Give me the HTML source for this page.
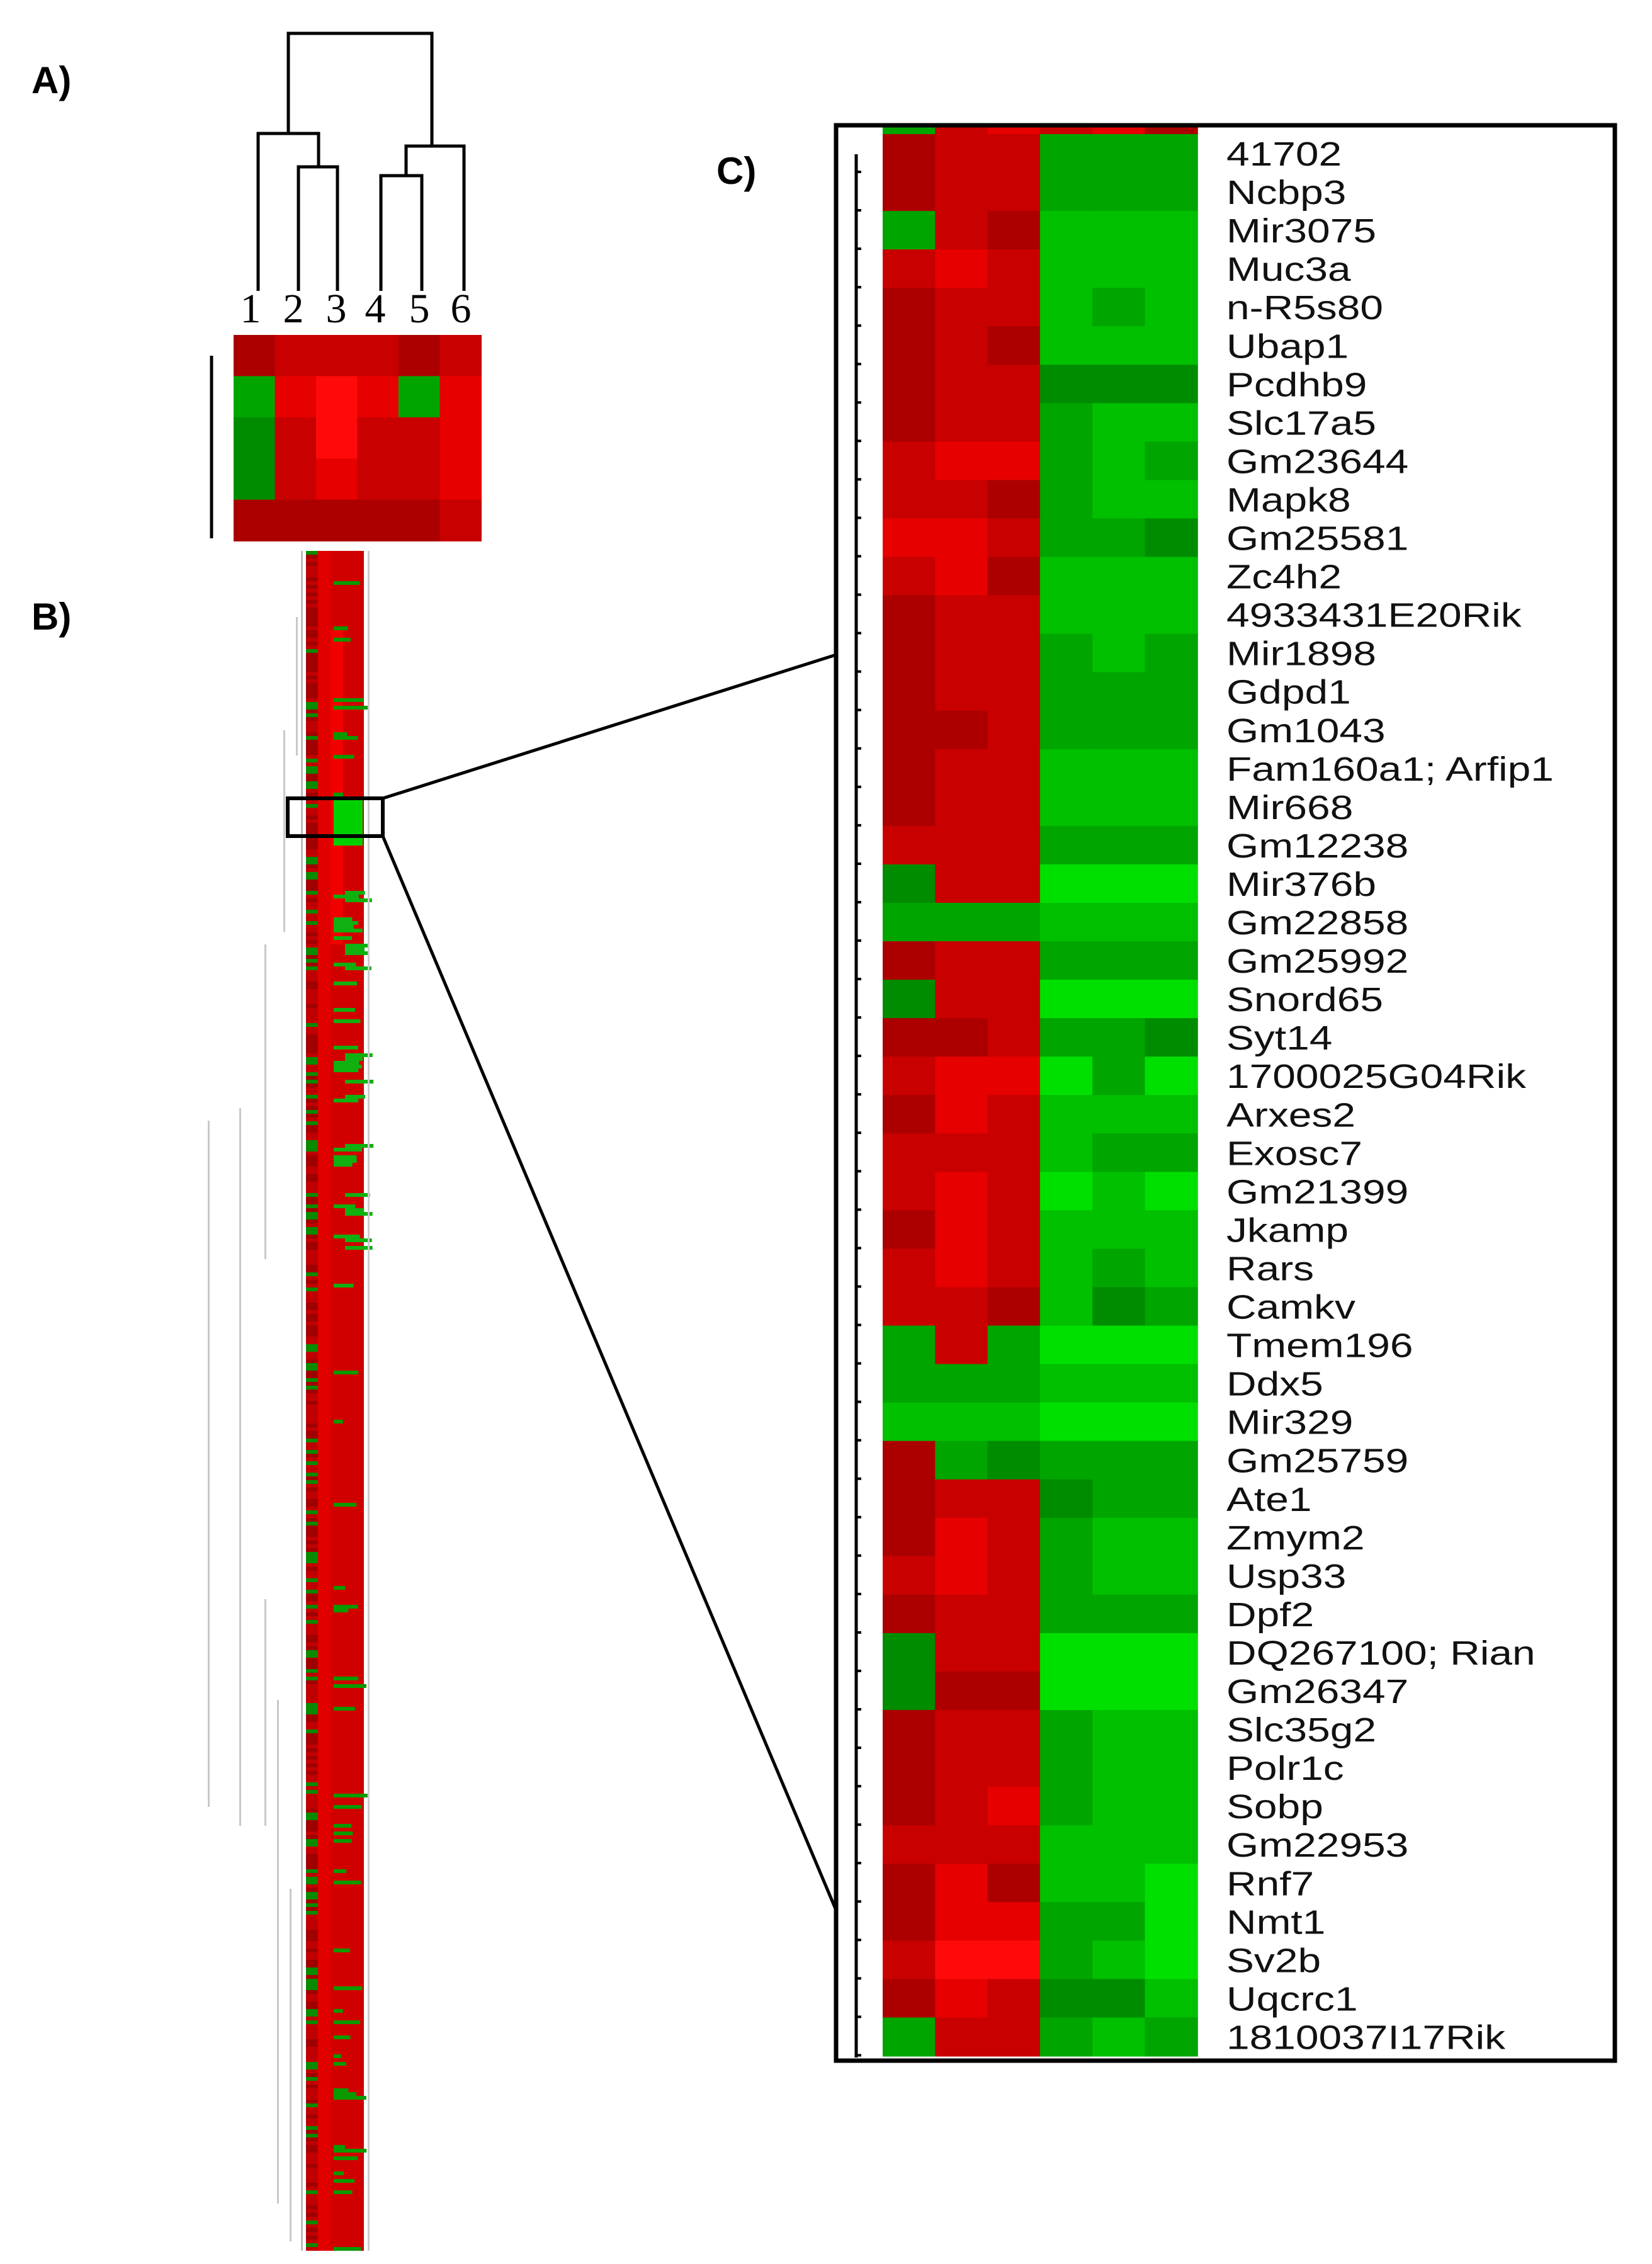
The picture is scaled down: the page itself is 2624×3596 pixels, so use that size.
<!DOCTYPE html>
<html><head><meta charset="utf-8"><style>html,body{margin:0;padding:0;background:#fff}svg{display:block}</style></head>
<body>
<svg id="s" xmlns="http://www.w3.org/2000/svg" width="2624" height="3596" viewBox="0 0 2624 3596">
<rect width="2624" height="3596" fill="#fff"/>
<g font-family="Liberation Sans, Arial, sans-serif" font-weight="bold" font-size="60" fill="#000">
<text x="50" y="148">A)</text>
<text x="50" y="1000">B)</text>
<text x="1138" y="292">C)</text>
</g>
<g stroke="#000" stroke-width="5" fill="none">
<path d="M458 212 V53 H686 V232"/>
<path d="M410 462 V212 H506 V265"/>
<path d="M474 462 V265 H536 V462"/>
<path d="M737 462 V232 H645 V279"/>
<path d="M605 462 V279 H670 V462"/>
<path d="M336 565 V855"/>
</g>
<g font-family="Liberation Serif, serif" font-size="66" fill="#000" text-anchor="middle">
<text x="398" y="512">1</text><text x="466" y="512">2</text><text x="534" y="512">3</text>
<text x="596" y="512">4</text><text x="666" y="512">5</text><text x="732" y="512">6</text>
</g>
<g id="ha"></g>
<g id="hb"></g>
<rect x="457" y="1268" width="151" height="60" fill="none" stroke="#000" stroke-width="6"/>
<line x1="608" y1="1268" x2="1328" y2="1040" stroke="#000" stroke-width="5"/>
<line x1="608" y1="1328" x2="1328" y2="3034" stroke="#000" stroke-width="5"/>
<g id="hc"></g>
<rect x="1328" y="199" width="1237" height="3074" fill="none" stroke="#000" stroke-width="7"/>
<line x1="1360" y1="245" x2="1360" y2="3268" stroke="#000" stroke-width="5"/>
<g id="lab" font-family="Liberation Sans, Arial, sans-serif" font-size="54" fill="#111"></g>
</svg>
<script>
var NS="http://www.w3.org/2000/svg";
function R(g,x,y,w,h,c){var r=document.createElementNS(NS,"rect");r.setAttribute("x",x);r.setAttribute("y",y);r.setAttribute("width",w);r.setAttribute("height",h);r.setAttribute("fill",c);g.appendChild(r);}
var C={R1:"#ac0000",R2:"#c80000",R3:"#e60000",R4:"#ff0a0a",G1:"#008c00",G2:"#00a500",G3:"#00c000",G4:"#00e000"};
var ha=document.getElementById("ha");
var A=[["R1","R2","R2","R2","R1","R2"],["G2","R3","R4","R3","G2","R3"],["G1","R2","R4","R2","R2","R3"],["G1","R2","R3","R2","R2","R3"],["R1","R1","R1","R1","R1","R2"]];
for(var i=0;i<5;i++)for(var j=0;j<6;j++)R(ha,371+j*65.5,532+i*65.4,66.5,66.4,C[A[i][j]]);
var hb=document.getElementById("hb");
var seed=7;function rnd(){seed=(seed*16807)%2147483647;return seed/2147483647;}
R(hb,486,875,92,2700,"#d00000");
R(hb,505,875,20,2700,"#e00000");
R(hb,525,1000,20,500,"#f00000");
for(var y=875;y<3575;y+=6){
 var r=rnd();
 R(hb,486,y,19,6,r<0.22?"#0a8a00":(r<0.6?"#a00000":"#c00000"));
 var r2=rnd();
 if(y>1270&&y<1340){R(hb,530,y,46,6,"#00d000");}
 else if(y>1340&&y<2050&&r2<0.4){R(hb,530+(rnd()<0.5?0:18),y,28+rnd()*18,6,"#10b010");}
 else if(r2<0.12){R(hb,530,y,46*rnd()+10,6,"#0a9a00");}
}
R(hb,478,875,3,2700,"#bbb");R(hb,584,875,3,2700,"#ccc");
var dl=[[470,980,1200],[450,1160,1480],[420,1500,2000],[380,1760,2900],[330,1780,2870],[420,2540,2900],[440,2700,3500],[460,3000,3560]];
dl.forEach(function(d){R(hb,d[0],d[1],3,d[2]-d[1],"#c8c8c8");});
var rows=[
["41702","R1 R2 R2 G2 G2 G2"],["Ncbp3","R1 R2 R2 G2 G2 G2"],["Mir3075","G2 R2 R1 G3 G3 G3"],["Muc3a","R2 R3 R2 G3 G3 G3"],
["n-R5s80","R1 R2 R2 G3 G2 G3"],["Ubap1","R1 R2 R1 G3 G3 G3"],["Pcdhb9","R1 R2 R2 G1 G1 G1"],["Slc17a5","R1 R2 R2 G2 G3 G3"],
["Gm23644","R2 R3 R3 G2 G3 G2"],["Mapk8","R2 R2 R1 G2 G3 G3"],["Gm25581","R3 R3 R2 G2 G2 G1"],["Zc4h2","R2 R3 R1 G3 G3 G3"],
["4933431E20Rik","R1 R2 R2 G3 G3 G3"],["Mir1898","R1 R2 R2 G2 G3 G2"],["Gdpd1","R1 R2 R2 G2 G2 G2"],["Gm1043","R1 R1 R2 G2 G2 G2"],
["Fam160a1; Arfip1","R1 R2 R2 G3 G3 G3"],["Mir668","R1 R2 R2 G3 G3 G3"],["Gm12238","R2 R2 R2 G2 G2 G2"],["Mir376b","G1 R2 R2 G4 G4 G4"],
["Gm22858","G2 G2 G2 G3 G3 G3"],["Gm25992","R1 R2 R2 G2 G2 G2"],["Snord65","G1 R2 R2 G4 G4 G4"],["Syt14","R1 R1 R2 G2 G2 G1"],
["1700025G04Rik","R2 R3 R3 G4 G2 G4"],["Arxes2","R1 R3 R2 G3 G3 G3"],["Exosc7","R2 R2 R2 G3 G2 G2"],["Gm21399","R2 R3 R2 G4 G3 G4"],
["Jkamp","R1 R3 R2 G3 G3 G3"],["Rars","R2 R3 R2 G3 G2 G3"],["Camkv","R2 R2 R1 G3 G1 G2"],["Tmem196","G2 R2 G2 G4 G4 G4"],
["Ddx5","G2 G2 G2 G3 G3 G3"],["Mir329","G3 G3 G3 G4 G4 G4"],["Gm25759","R1 G2 G1 G2 G2 G2"],["Ate1","R1 R2 R2 G1 G2 G2"],
["Zmym2","R1 R3 R2 G2 G3 G3"],["Usp33","R2 R3 R2 G2 G3 G3"],["Dpf2","R1 R2 R2 G2 G2 G2"],["DQ267100; Rian","G1 R2 R2 G4 G4 G4"],
["Gm26347","G1 R1 R1 G4 G4 G4"],["Slc35g2","R1 R2 R2 G2 G3 G3"],["Polr1c","R1 R2 R2 G2 G3 G3"],["Sobp","R1 R2 R3 G2 G3 G3"],
["Gm22953","R2 R2 R2 G3 G3 G3"],["Rnf7","R1 R3 R1 G3 G3 G4"],["Nmt1","R1 R3 R3 G2 G2 G4"],["Sv2b","R2 R4 R4 G2 G3 G4"],
["Uqcrc1","R1 R3 R2 G1 G1 G3"],["1810037I17Rik","G2 R2 R2 G2 G3 G2"]];
var hc=document.getElementById("hc"),lab=document.getElementById("lab");
var x0=1402,cw=83.3,y0=213,rh=61.05;
var topRow=["G2","R2","R3","R2","R3","R1"];
for(var j=0;j<6;j++)R(hc,x0+j*cw,202,cw+1,12,C[topRow[j]]);
rows.forEach(function(rw,i){
 var cs=rw[1].split(" ");
 for(var j=0;j<6;j++)R(hc,x0+j*cw,y0+i*rh,cw+1,rh+1,C[cs[j]]);
 var t=document.createElementNS(NS,"text");
 t.setAttribute("transform","translate(1948,"+(y0+i*rh+50)+") scale(1.22,1)");
 t.textContent=rw[0];lab.appendChild(t);
 var tk=document.createElementNS(NS,"rect");tk.setAttribute("x",1360);tk.setAttribute("y",y0+i*rh+58);tk.setAttribute("width",8);tk.setAttribute("height",4);tk.setAttribute("fill","#000");hc.appendChild(tk);
});
</script>
</body></html>
